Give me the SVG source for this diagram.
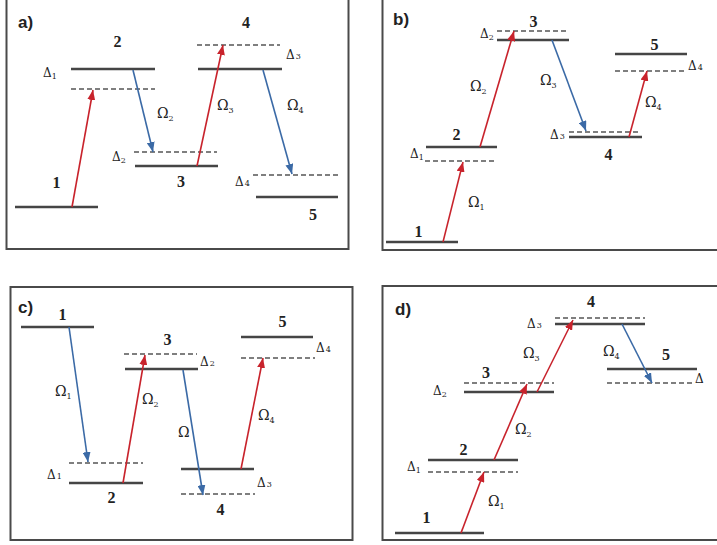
<svg xmlns="http://www.w3.org/2000/svg" width="717" height="545" viewBox="0 0 717 545">
<style>
.frame{fill:none;stroke:#4a4a4a;stroke-width:2}
.lv{stroke:#454545;stroke-width:2.6}
.ds{stroke:#555;stroke-width:1.4;stroke-dasharray:5 3}
.red{stroke:#c8232c;stroke-width:1.6;fill:none;marker-end:url(#ar)}
.blue{stroke:#3b6aa6;stroke-width:1.6;fill:none;marker-end:url(#ab)}
.pl{font-family:"Liberation Sans",Arial,sans-serif;font-weight:bold;font-size:17px;fill:#222}
.n{font-family:"Liberation Serif","DejaVu Serif",serif;font-weight:bold;font-size:16px;fill:#222;text-anchor:middle}
.d{font-family:"DejaVu Serif","Liberation Serif",serif;font-size:12px;fill:#222}
.o{font-family:"DejaVu Serif","Liberation Serif",serif;font-size:14px;fill:#222}
.s{font-size:8px}
</style>
<defs>
<marker id="ar" markerUnits="userSpaceOnUse" markerWidth="10" markerHeight="8" refX="10" refY="4" orient="auto"><path d="M0,0 L10,4 L0,8 z" fill="#c8232c"/></marker>
<marker id="ab" markerUnits="userSpaceOnUse" markerWidth="10" markerHeight="8" refX="10" refY="4" orient="auto"><path d="M0,0 L10,4 L0,8 z" fill="#3b6aa6"/></marker>
</defs>
<rect width="717" height="545" fill="#fff"/>

<!-- Panel a -->
<g id="panel-a">
<rect class="frame" x="6.5" y="-5" width="342" height="254"/>
<text class="pl" x="18" y="28">a)</text>
<g id="a-l1"><line class="lv" x1="15" y1="207" x2="98" y2="207"/><text class="n" x="56.5" y="188">1</text></g>
<g id="a-l2"><line class="lv" x1="71" y1="69" x2="155" y2="69"/><line class="ds" x1="71" y1="89" x2="155" y2="89"/><text class="n" x="117.5" y="47">2</text><text class="d" x="43" y="77">Δ<tspan class="s" dy="2">1</tspan></text></g>
<g id="a-l3"><line class="lv" x1="135" y1="166" x2="218" y2="166"/><line class="ds" x1="134" y1="152" x2="217" y2="152"/><text class="n" x="181" y="187">3</text><text class="d" x="112" y="161">Δ<tspan class="s" dy="2">2</tspan></text></g>
<g id="a-l4"><line class="lv" x1="198" y1="69" x2="282" y2="69"/><line class="ds" x1="197" y1="45" x2="280" y2="45"/><text class="n" x="246" y="28">4</text><text class="d" x="286" y="59">Δ<tspan class="s" dx="1">3</tspan></text></g>
<g id="a-l5"><line class="lv" x1="256" y1="197" x2="338" y2="197"/><line class="ds" x1="253" y1="175" x2="338" y2="175"/><text class="n" x="313" y="220">5</text><text class="d" x="235" y="186">Δ<tspan class="s" dx="1">4</tspan></text></g>
<g id="a-conn">
<line class="red" x1="72" y1="207" x2="93" y2="90"/>
<line class="blue" x1="133" y1="70" x2="153" y2="152"/>
<line class="red" x1="197" y1="166" x2="223" y2="45"/>
<line class="blue" x1="263" y1="70" x2="292" y2="174"/>
</g>
<text class="o" x="157" y="118">Ω<tspan class="s" dy="3">2</tspan></text>
<text class="o" x="217" y="110">Ω<tspan class="s" dy="3">3</tspan></text>
<text class="o" x="287" y="110">Ω<tspan class="s" dy="3">4</tspan></text>
</g>

<!-- Panel b -->
<g id="panel-b">
<rect class="frame" x="382.5" y="-5" width="345" height="255"/>
<text class="pl" x="393" y="25">b)</text>
<g id="b-l1"><line class="lv" x1="386" y1="242" x2="458" y2="242"/><text class="n" x="418.5" y="237">1</text></g>
<g id="b-l2"><line class="lv" x1="426" y1="147" x2="497" y2="147"/><line class="ds" x1="425" y1="161" x2="495" y2="161"/><text class="n" x="456.5" y="140">2</text><text class="d" x="410" y="158">Δ<tspan class="s" dy="2">1</tspan></text></g>
<g id="b-l3"><line class="lv" x1="497" y1="40" x2="569" y2="40"/><line class="ds" x1="497" y1="31" x2="567" y2="31"/><text class="n" x="533.5" y="27">3</text><text class="d" x="480" y="38">Δ<tspan class="s" dy="2">2</tspan></text></g>
<g id="b-l4"><line class="lv" x1="569" y1="137" x2="642" y2="137"/><line class="ds" x1="569" y1="132" x2="639" y2="132"/><text class="n" x="608.5" y="160">4</text><text class="d" x="550" y="139">Δ<tspan class="s" dx="1">3</tspan></text></g>
<g id="b-l5"><line class="lv" x1="615" y1="54" x2="687" y2="54"/><line class="ds" x1="615" y1="71" x2="685" y2="71"/><text class="n" x="654.5" y="50">5</text><text class="d" x="688" y="70">Δ<tspan class="s" dx="1">4</tspan></text></g>
<g id="b-conn">
<line class="red" x1="443" y1="242" x2="463" y2="162"/>
<line class="red" x1="480" y1="147" x2="514" y2="31"/>
<line class="blue" x1="552" y1="40" x2="586" y2="131"/>
<line class="red" x1="629" y1="137" x2="647" y2="71"/>
</g>
<text class="o" x="468" y="207">Ω<tspan class="s" dy="3">1</tspan></text>
<text class="o" x="470" y="91">Ω<tspan class="s" dy="3">2</tspan></text>
<text class="o" x="540" y="85">Ω<tspan class="s" dy="3">3</tspan></text>
<text class="o" x="645" y="107">Ω<tspan class="s" dy="3">4</tspan></text>
</g>

<!-- Panel c -->
<g id="panel-c">
<rect class="frame" x="10.5" y="287" width="342" height="253"/>
<text class="pl" x="18" y="313">c)</text>
<g id="c-l1"><line class="lv" x1="21" y1="327" x2="94" y2="327"/><text class="n" x="62.5" y="320">1</text></g>
<g id="c-l2"><line class="lv" x1="69" y1="483" x2="143" y2="483"/><line class="ds" x1="69" y1="463" x2="143" y2="463"/><text class="n" x="111.5" y="503">2</text><text class="d" x="47" y="479">Δ<tspan class="s" dx="1">1</tspan></text></g>
<g id="c-l3"><line class="lv" x1="125" y1="369" x2="198" y2="369"/><line class="ds" x1="124" y1="354" x2="197" y2="354"/><text class="n" x="167.5" y="345">3</text><text class="d" x="200" y="366">Δ<tspan class="s" dx="1">2</tspan></text></g>
<g id="c-l4"><line class="lv" x1="181" y1="469" x2="254" y2="469"/><line class="ds" x1="181" y1="494" x2="255" y2="494"/><text class="n" x="220.5" y="515">4</text><text class="d" x="257" y="487">Δ<tspan class="s" dx="1">3</tspan></text></g>
<g id="c-l5"><line class="lv" x1="241" y1="337" x2="313" y2="337"/><line class="ds" x1="241" y1="358" x2="315" y2="358"/><text class="n" x="282.5" y="327">5</text><text class="d" x="316" y="352">Δ<tspan class="s" dx="1">4</tspan></text></g>
<g id="c-conn">
<line class="blue" x1="69" y1="327" x2="88" y2="462"/>
<line class="red" x1="123" y1="483" x2="145" y2="355"/>
<line class="blue" x1="183" y1="370" x2="203" y2="495"/>
<line class="red" x1="241" y1="469" x2="263" y2="358"/>
</g>
<text class="o" x="55" y="396">Ω<tspan class="s" dy="3">1</tspan></text>
<text class="o" x="142" y="404">Ω<tspan class="s" dy="3">2</tspan></text>
<text class="o" x="178" y="437">Ω</text>
<text class="o" x="258" y="420">Ω<tspan class="s" dy="3">4</tspan></text>
</g>

<!-- Panel d -->
<g id="panel-d">
<rect class="frame" x="382.5" y="286" width="345" height="254"/>
<text class="pl" x="395" y="315">d)</text>
<g id="d-l1"><line class="lv" x1="395" y1="533" x2="484" y2="533"/><text class="n" x="426.5" y="523">1</text></g>
<g id="d-l2"><line class="lv" x1="428" y1="460" x2="518" y2="460"/><line class="ds" x1="428" y1="472" x2="518" y2="472"/><text class="n" x="463.5" y="455">2</text><text class="d" x="407" y="471">Δ<tspan class="s" dy="2">1</tspan></text></g>
<g id="d-l3"><line class="lv" x1="464" y1="392" x2="554" y2="392"/><line class="ds" x1="464" y1="383" x2="554" y2="383"/><text class="n" x="486" y="378">3</text><text class="d" x="433" y="395">Δ<tspan class="s" dy="2">2</tspan></text></g>
<g id="d-l4"><line class="lv" x1="555" y1="324" x2="645" y2="324"/><line class="ds" x1="555" y1="318" x2="645" y2="318"/><text class="n" x="591" y="307">4</text><text class="d" x="527" y="328">Δ<tspan class="s" dx="1">3</tspan></text></g>
<g id="d-l5"><line class="lv" x1="607" y1="369" x2="697" y2="369"/><line class="ds" x1="607" y1="383" x2="693" y2="383"/><text class="n" x="666" y="360">5</text><text class="d" x="695" y="383">Δ</text></g>
<g id="d-conn">
<line class="red" x1="461" y1="533" x2="484" y2="472"/>
<line class="red" x1="494" y1="460" x2="527" y2="384"/>
<line class="red" x1="537" y1="392" x2="573" y2="320"/>
<line class="blue" x1="622" y1="324" x2="652" y2="383"/>
</g>
<text class="o" x="488" y="506">Ω<tspan class="s" dy="3">1</tspan></text>
<text class="o" x="515" y="434">Ω<tspan class="s" dy="3">2</tspan></text>
<text class="o" x="523" y="358">Ω<tspan class="s" dy="3">3</tspan></text>
<text class="o" x="603" y="356">Ω<tspan class="s" dy="3">4</tspan></text>
</g>
</svg>
